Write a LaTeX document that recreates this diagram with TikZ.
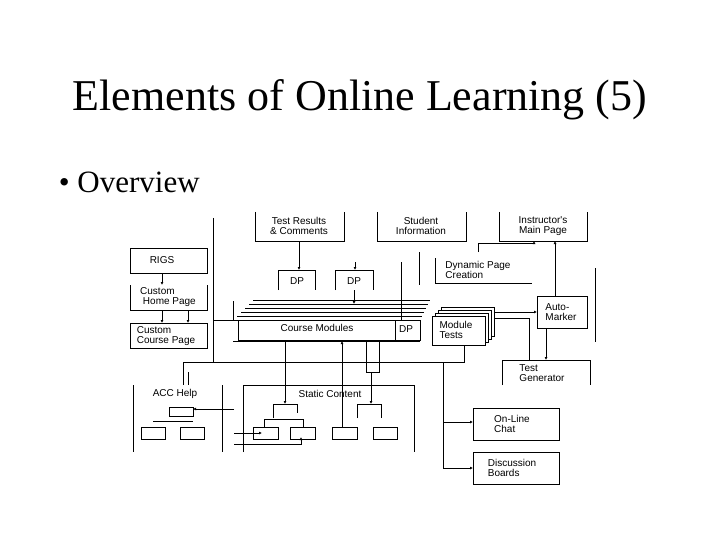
\documentclass[tikz,border=0pt]{standalone}
\usepackage{fontspec}
\usetikzlibrary{arrows.meta}
\setmainfont{Liberation Serif}
\newfontfamily\dsans{Liberation Sans}
\begin{document}
\begin{tikzpicture}[x=1pt,y=-1pt,line width=1pt,
  lbl/.style={font=\dsans\fontsize{10}{10}\selectfont,align=left,inner sep=0pt},
  arr/.style={-{Latex[length=3pt,width=3pt]}}]
\useasboundingbox (0,0) rectangle (720,540);
\node (title) at (360,100) {\fontsize{44}{46}\selectfont Elements of Online Learning (5)};
\node[anchor=west] (ov) at (55,182) {\fontsize{31}{33}\selectfont \textbullet\ Overview};
% top row boxes (open top)
\draw (255,212) -- (255,241) -- (344,241) -- (344,212);
\node[lbl,align=center] (trc) at (299,226) {Test Results\\\& Comments};
\draw (377,212) -- (377,241) -- (466,241) -- (466,212);
\node[lbl,align=center] (si) at (421,226) {Student\\Information};
\draw (499,212) -- (499,241) -- (587,241) -- (587,212);
\node[lbl,align=center] (imp) at (543,226) {Instructor's\\Main Page};
% left column
\draw (130,248) rectangle (207,273); \node[lbl] (rigs) at (162,260) {RIGS};
\draw (130,285) -- (130,310) -- (207,310) -- (207,285);
\node[lbl] (chp) at (168,297) {Custom\\\ Home Page};
\draw (130,323) rectangle (207,348);
\node[lbl] (ccp) at (166,336) {Custom\\Course Page};
\draw[arr] (162,273) -- (162,285);
\draw[arr] (162,310) -- (162,323);
\draw[arr] (188,310) -- (188,323);
\draw (213,218) -- (213,350);
% DP boxes
\draw (278,290) -- (278,270) -- (315,270) -- (315,290);
\node[lbl] (dp1) at (297,281) {DP};
\draw (335,290) -- (335,270) -- (373,270) -- (373,290);
\node[lbl] (dp2) at (354,281) {DP};
\draw[arr] (299,241) -- (299,270);
\draw[arr] (355,262) -- (355,270);
% Dynamic page creation
\draw (435,258) -- (435,283) -- (532,283);
\draw (419,252) -- (419,285);
\node[lbl] (dpc) at (478,270) {Dynamic Page\\Creation};
\draw[arr] (478,252) -- (478,243) -- (534,243) -- (534,241);
% course modules stack
\foreach \d in {0,4,8,12,16} {\draw (253-\d,300+\d) -- (430-\d*0.5,300+\d);}
\draw (238,320) rectangle (420,340);
\node[lbl] (cm) at (317,328) {Course Modules};
\node[lbl] (dp3) at (406,329) {DP};
\draw (395,320) -- (395,340);
\draw (213,320) -- (238,320);
\draw (233,301) -- (233,320);
\draw[arr] (354,290) -- (354,304);
\draw (401,262) -- (401,320);
\draw (233,341) -- (420,341);
% module tests stack
\foreach \d in {9,6,3} {\draw[fill=white] (432+\d,316-\d) rectangle (485+\d,345-\d);}
\draw[fill=white] (432,316) rectangle (485,345);
\node[lbl] (mt) at (456,330) {Module\\Tests};
% automarker
\draw (537,296) rectangle (587,328);
\node[lbl] (am) at (561,312) {Auto-\\Marker};
\draw[arr] (494,312) -- (537,312);
\draw[arr] (555,296) -- (555,241);
\draw (529,360) -- (529,318) -- (494,318);
\draw (595,268) -- (595,342);
% test generator
\draw (502,385) -- (502,360) -- (590,360) -- (590,385);
\node[lbl] (tg) at (542,373) {Test\\Generator};
\draw[arr] (546,328) -- (546,360);
% bus
\draw (183,362) -- (464,362) -- (464,345);
\draw (213,350) -- (213,362);
\draw (183,362) -- (183,385); \draw (188,372) -- (188,385);
\draw[arr] (443,362) -- (443,468) -- (473,468);
\draw[arr] (443,422) -- (473,422);
\draw (366,341) -- (366,372) -- (379,372) -- (379,341);
% down lines from course modules
\draw[arr] (285,341) -- (285,404);
\draw[arr] (342,362) -- (342,341); \draw (342,362) -- (342,427);
\draw[arr] (371,372) -- (371,404);
% ACC help
\draw (133,385) -- (133,452); \draw (222,385) -- (222,452);
\node[lbl] (acc) at (175,394) {ACC Help};
\draw (169,407) rectangle (193,416);
\draw (153,421) -- (193,421);
\draw (141,427) rectangle (165,439); \draw (180,427) rectangle (204,439);
\draw[arr] (234,409) -- (193,409);
% static content
\draw (243,452) -- (243,385) -- (414,385) -- (414,452);
\node[lbl] (sc) at (330,394) {Static Content};
\draw (273,418) -- (273,404) -- (297,404) -- (297,413);
\draw (357,418) -- (357,404) -- (381,404) -- (381,418);
\draw (264,427) -- (264,419) -- (303,419) -- (303,427);
\draw (253,427) rectangle (278,439); \draw (290,427) rectangle (315,439);
\draw (332,427) rectangle (357,439); \draw (373,427) rectangle (397,439);
\draw[arr] (234,433) -- (262,433);
\draw[arr] (234,444) -- (301,444) -- (301,437);
% chat & board
\draw (473,408) rectangle (559,440); \node[lbl] (olc) at (512,424) {On-Line\\Chat};
\draw (473,452) rectangle (559,484); \node[lbl] (db) at (512,468) {Discussion\\Boards};
\end{tikzpicture}
\end{document}
